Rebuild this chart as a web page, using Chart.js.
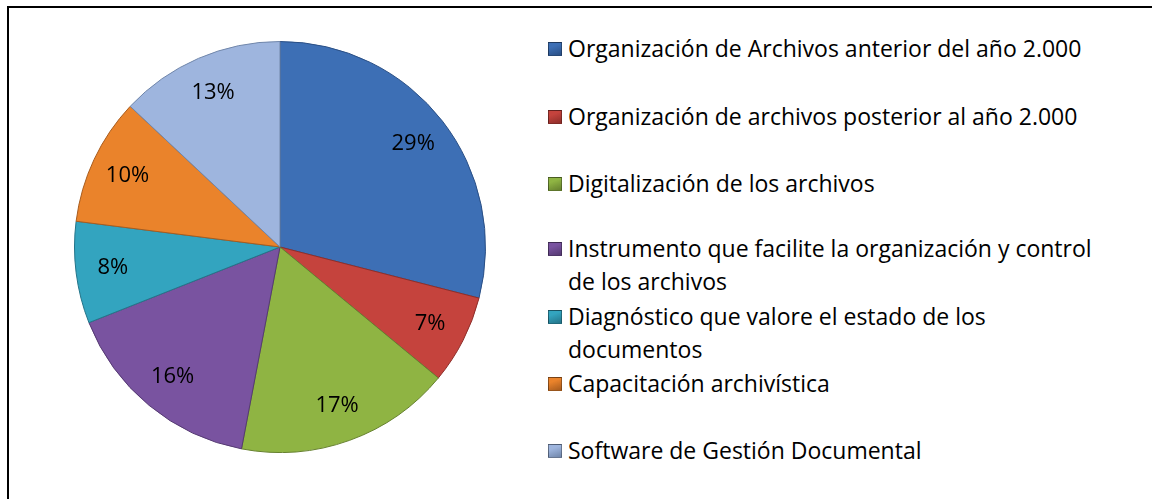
<!DOCTYPE html>
<html>
<head>
<meta charset="utf-8">
<script src="https://cdn.jsdelivr.net/npm/chart.js@4/dist/chart.umd.min.js"></script>
<style>
  html, body { margin: 0; padding: 0; background: #fff; width: 1152px; height: 499px; overflow: hidden; }
  #frame { position: absolute; left: 7px; top: 6px; width: 1160px; height: 510px; border: 2px solid #000; box-sizing: border-box; }
  #pie-box { position: absolute; left: 74px; top: 41px; width: 412px; height: 412px; }
  .item { position: absolute; left: 548px; font-family: "Open Sans", Lato, sans-serif; font-size: 23px; color: #000; line-height: 33px; white-space: nowrap; }
  .item .sw { position: absolute; left: 0; top: 10px; width: 14px; height: 14px; box-sizing: border-box; border: 1px solid rgba(0,0,0,0.35); }
  .item .tx { margin-left: 20px; display: block; }
</style>
</head>
<body>
<div id="frame"></div>
<div id="pie-box"><canvas id="chart-container"></canvas></div>
<div id="legend"></div>
<script>
const categories = [
  "Organización de Archivos anterior del año 2.000",
  "Organización de archivos posterior al año 2.000",
  "Digitalización de los archivos",
  "Instrumento que facilite la organización y control de los archivos",
  "Diagnóstico que valore el estado de los documentos",
  "Capacitación archivística",
  "Software de Gestión Documental"
];
const legendLines = [
  ["Organización de Archivos anterior del año 2.000"],
  ["Organización de archivos posterior al año 2.000"],
  ["Digitalización de los archivos"],
  ["Instrumento que facilite la organización y control", "de los archivos"],
  ["Diagnóstico que valore el estado de los", "documentos"],
  ["Capacitación archivística"],
  ["Software de Gestión Documental"]
];
const percentages = [29, 7, 17, 16, 8, 10, 13];

const sliceColors = ["#3d6fb5", "#c5433d", "#8fb443", "#7953a0", "#33a4bf", "#ea832b", "#9eb5de"];
const edgeColors = ["#2a4f85", "#8e2e2a", "#66812f", "#553a72", "#247489", "#a85c1e", "#7086aa"];
const legendTops = [32, 100, 167, 232, 300, 367, 434];

// html legend (wrapped labels like the original)
const legend = document.getElementById('legend');
legendLines.forEach((lines, i) => {
  const d = document.createElement('div');
  d.className = 'item';
  d.style.top = legendTops[i] + 'px';
  d.innerHTML = '<span class="sw" style="background:linear-gradient(160deg,' + sliceColors[i] + ' 30%,' + edgeColors[i] + ')"></span>' +
    lines.map(l => '<span class="tx">' + l + '</span>').join('');
  legend.appendChild(d);
});

const pctLabels = {
  id: 'pctLabels',
  afterDatasetsDraw(chart) {
    const ctx = chart.ctx;
    const meta = chart.getDatasetMeta(0);
    ctx.save();
    ctx.font = '22px "Open Sans", Lato, sans-serif';
    ctx.fillStyle = '#000';
    ctx.textAlign = 'center';
    ctx.textBaseline = 'middle';
    meta.data.forEach((arc, i) => {
      const mid = (arc.startAngle + arc.endAngle) / 2;
      const r = arc.outerRadius * 0.82;
      ctx.fillText(percentages[i] + '%', arc.x + Math.cos(mid) * r, arc.y + Math.sin(mid) * r);
    });
    ctx.restore();
  }
};

new Chart(document.getElementById('chart-container'), {
  type: 'pie',
  data: {
    labels: categories,
    datasets: [{
      data: percentages,
      backgroundColor: sliceColors,
      borderColor: edgeColors,
      borderWidth: 1
    }]
  },
  options: {
    responsive: true,
    maintainAspectRatio: false,
    animation: false,
    layout: { padding: 0 },
    plugins: {
      legend: { display: false },
      tooltip: { enabled: false },
      title: { display: false }
    }
  },
  plugins: [pctLabels]
});
</script>
</body>
</html>
